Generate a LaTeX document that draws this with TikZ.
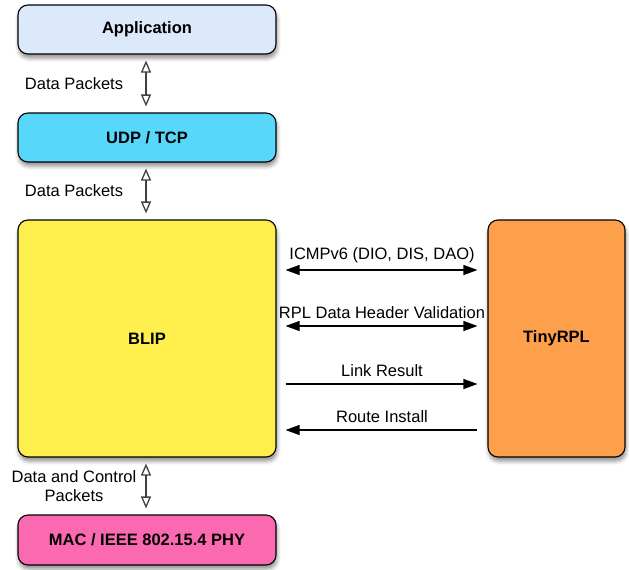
\documentclass[tikz,border=0pt]{standalone}
\usepackage{fontspec}
\setmainfont{Liberation Sans}
\usetikzlibrary{arrows.meta,shadows.blur}

\definecolor{appblue}{HTML}{DCE9FB}
\definecolor{udpcyan}{HTML}{57D8FB}
\definecolor{blipyellow}{HTML}{FEEF4C}
\definecolor{rplorange}{HTML}{FEA04B}
\definecolor{macpink}{HTML}{FB6AB1}

\begin{document}
\begin{tikzpicture}[x=1pt,y=-1pt,
  layer/.style={draw=black, line width=1.1pt, rounded corners=10pt,
    font=\fontsize{16.5}{19}\selectfont\bfseries,
    blur shadow={shadow xshift=1pt, shadow yshift=-4pt, shadow blur radius=4pt, shadow opacity=45}},
  datalink/.style={draw=black!75, line width=1.3pt, {Triangle[open,width=10pt,length=12pt]}-{Triangle[open,width=10pt,length=12pt]},
    shorten <=6pt, shorten >=6pt},
  ctrllink/.style={draw=black, line width=1.1pt, shorten <=9pt, shorten >=10pt},
  rpltip/.tip={Triangle[width=10pt,length=14pt]},
  lbl/.style={font=\fontsize{16.5}{19}\selectfont, align=center}]
\useasboundingbox (0,0) rectangle (629,570);

\node[layer, fill=appblue, minimum width=258pt, minimum height=49pt] (app) at (147,29.5) {Application};
\node[layer, fill=udpcyan, minimum width=258pt, minimum height=49pt] (udp) at (147,137.5) {UDP / TCP};
\node[layer, fill=blipyellow, minimum width=258pt, minimum height=237pt] (blip) at (147,338.5) {BLIP};
\node[layer, fill=macpink, minimum width=258pt, minimum height=50pt] (mac) at (147,540) {MAC / IEEE 802.15.4 PHY};
\node[layer, fill=rplorange, minimum width=137pt, minimum height=237pt] (rpl) at (556.5,338.5) {TinyRPL};

% vertical data paths
\draw[datalink] (app.south -| 146,0) -- (udp.north -| 146,0)
  node[lbl, midway, xshift=-72pt] {Data Packets};
\draw[datalink] (udp.south -| 146,0) -- (blip.north -| 146,0)
  node[lbl, midway, xshift=-72pt] {Data Packets};
\draw[datalink] (blip.south -| 146,0) -- (mac.north -| 146,0)
  node[lbl, midway, xshift=-72pt] {Data and Control\\Packets};

% BLIP <-> TinyRPL
\draw[ctrllink, rpltip-rpltip] (blip.east |- 0,270) -- (rpl.west |- 0,270)
  node[lbl, midway, above=3pt] {ICMPv6 (DIO, DIS, DAO)};
\draw[ctrllink, rpltip-rpltip] (blip.east |- 0,326) -- (rpl.west |- 0,326)
  node[lbl, midway, above=3pt] {RPL Data Header Validation};
\draw[ctrllink, -rpltip] (blip.east |- 0,384) -- (rpl.west |- 0,384)
  node[lbl, midway, above=3pt] {Link Result};
\draw[ctrllink, rpltip-] (blip.east |- 0,430) -- (rpl.west |- 0,430)
  node[lbl, midway, above=3pt] {Route Install};

\end{tikzpicture}
\end{document}
